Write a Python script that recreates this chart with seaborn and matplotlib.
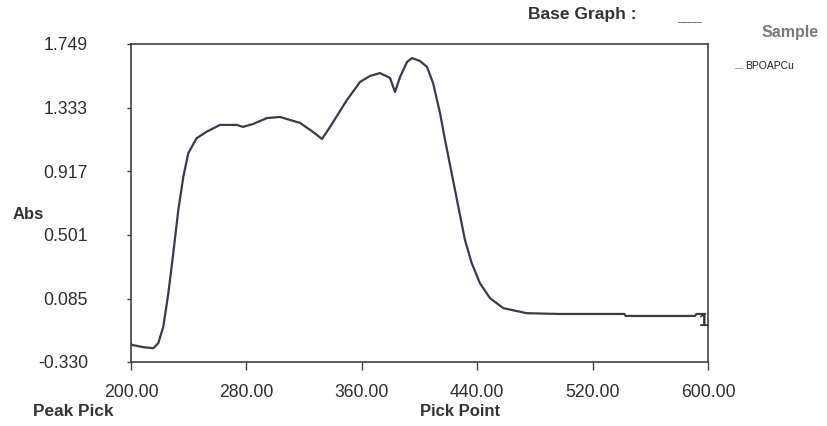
import numpy as np
import pandas as pd
import matplotlib
matplotlib.use("Agg")
import matplotlib.pyplot as plt
import seaborn as sns

# Absorbance spectrum of BPOAPCu (wavelength, nm vs Abs)
wavelength = [200, 200.5, 208.5, 215.5, 218.9, 222.4, 225.9, 229.3, 232.8, 236.3,
              239.7, 245.5, 252.5, 261.7, 273.3, 277.6, 284.6, 294.3, 303.3, 317.2,
              326.2, 332.4, 338.0, 349.7, 358.8, 365.7, 372.6, 379.6, 383.0, 386.5,
              391.3, 394.8, 400.3, 405.2, 409.4, 414.2, 417.7, 422.3, 426.9, 431.5,
              436.2, 441.9, 448.9, 458.1, 474.3, 497.4, 542.0, 543.0, 591.0, 592.0,
              598.0]
absorbance = [-0.210, -0.218, -0.233, -0.240, -0.207, -0.099, 0.120, 0.381, 0.664, 0.882,
              1.035, 1.133, 1.176, 1.220, 1.220, 1.207, 1.226, 1.265, 1.272, 1.233,
              1.174, 1.128, 1.207, 1.383, 1.501, 1.540, 1.559, 1.527, 1.435, 1.533,
              1.631, 1.657, 1.638, 1.599, 1.494, 1.298, 1.122, 0.904, 0.686, 0.468,
              0.316, 0.185, 0.087, 0.022, -0.011, -0.016, -0.016, -0.029, -0.029, -0.016,
              -0.016]

x_ticks = [200, 280, 360, 440, 520, 600]
y_ticks = [-0.330, 0.085, 0.501, 0.917, 1.333, 1.749]

sns.set_theme(style="ticks")
plt.rcParams["font.family"] = ["Liberation Sans", "DejaVu Sans"]

df = pd.DataFrame({"nm": wavelength, "Abs": absorbance})

fig = plt.figure(figsize=(8.28, 4.26), dpi=100)
ax = fig.add_axes([131 / 828, 1 - 362 / 426, (708 - 131) / 828, (362 - 44) / 426])
sns.lineplot(data=df, x="nm", y="Abs", ax=ax, color="#3a3a4c", linewidth=1.6)

ax.set_xlim(200, 600)
ax.set_ylim(-0.330, 1.749)
ax.set_xticks(x_ticks)
ax.set_xticklabels([f"{v:.2f}" for v in x_ticks])
ax.set_yticks(y_ticks)
ax.set_yticklabels([f"{v:.3f}" for v in y_ticks])
ax.set_xlabel("")
ax.set_ylabel("")
for s in ax.spines.values():
    s.set_color("#404040")
    s.set_linewidth(1.2)
ax.tick_params(axis="both", colors="#404040", labelcolor="#2e2e2e", labelsize=12.7, width=1)
ax.tick_params(axis="x", length=6, pad=10)
ax.tick_params(axis="y", length=3, pad=28)

c = "#333333"
fig.text(13 / 828, 1 - 214 / 426, "Abs", fontsize=12, fontweight="bold", color=c, va="center")
fig.text(33 / 828, 1 - 411 / 426, "Peak Pick", fontsize=12.4, fontweight="bold", color=c, va="center")
fig.text(460 / 828, 1 - 412 / 426, "Pick Point", fontsize=12, fontweight="bold", color=c,
         va="center", ha="center")
fig.text(528 / 828, 1 - 15 / 426, "Base Graph :", fontsize=12.5, fontweight="bold", color=c, va="center")
fig.text(677 / 828, 1 - 18 / 426, "____", fontsize=8, color="#555555", va="center")
fig.text(762 / 828, 1 - 33 / 426, "Sample", fontsize=11.5, fontweight="bold", color="#7a7a7a", va="center")
fig.text(734 / 828, 1 - 66 / 426, "__", fontsize=6, color="#444444", va="center")
fig.text(745 / 828, 1 - 66 / 426, "BPOAPCu", fontsize=7.5, color="#222222", va="center")
ax.text(593.5, -0.068, "1", fontsize=12.5, fontweight="bold", color="#333333", ha="left", va="center")

fig.savefig("out.png", dpi=100)
